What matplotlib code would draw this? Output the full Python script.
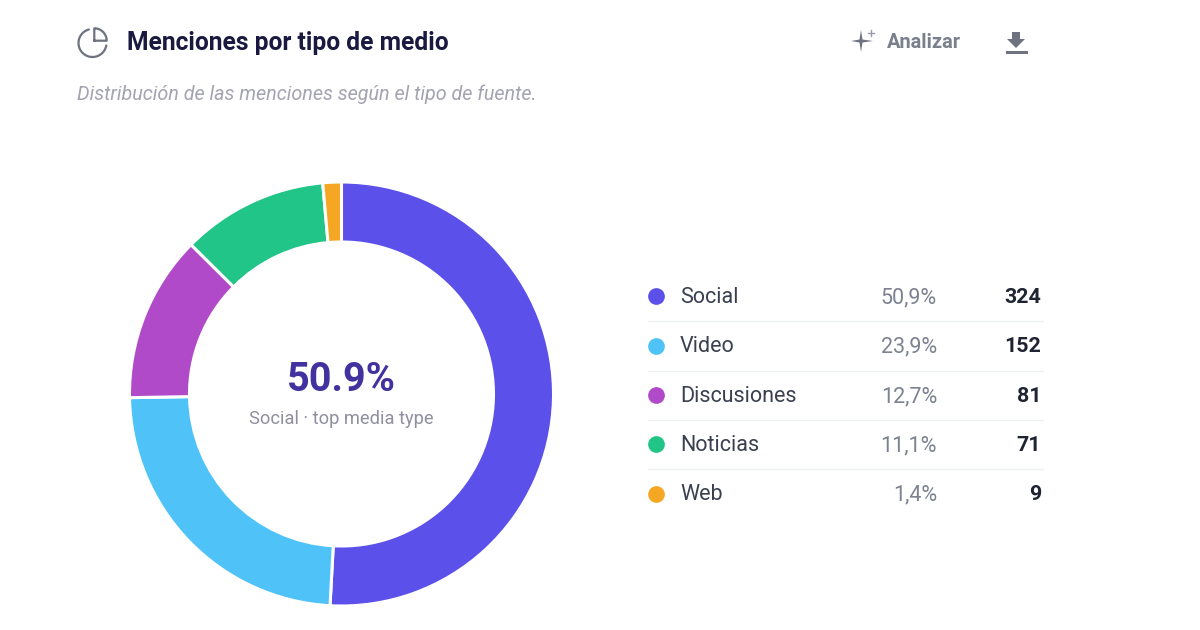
import numpy as np
import matplotlib
matplotlib.use("Agg")
import matplotlib.pyplot as plt

plt.rcParams["font.family"] = ["Roboto", "DejaVu Sans"]

categories = ["Social", "Video", "Discusiones", "Noticias", "Web"]
values = [324, 152, 81, 71, 9]
percent_labels = ["50,9%", "23,9%", "12,7%", "11,1%", "1,4%"]
colors = ["#5B50EA", "#4FC3F7", "#B04AC8", "#22C588", "#F5A623"]

fig = plt.figure(figsize=(12, 6.3), dpi=100, facecolor="white")

# capa en pixeles para textos e iconos
ax = fig.add_axes([0, 0, 1, 1])
ax.set_xlim(0, 1200)
ax.set_ylim(630, 0)
ax.axis("off")

# donut
cx, cy, r = 341.5, 394, 212
pie_ax = fig.add_axes([(cx - r) / 1200, 1 - (cy + r) / 630, 2 * r / 1200, 2 * r / 630])
pie_ax.pie(values, colors=colors, startangle=90, counterclock=False, radius=1,
           wedgeprops=dict(width=60 / 212, edgecolor="white", linewidth=2.2))
pie_ax.set_xlim(-1, 1)
pie_ax.set_ylim(-1, 1)
pie_ax.patch.set_alpha(0)

# cabecera
ax.text(127, 43, "Menciones por tipo de medio", fontsize=17.75, fontweight="bold",
        color="#1A1A40", va="center")
ax.text(77, 94, "Distribución de las menciones según el tipo de fuente.", fontsize=14.2,
        style="italic", color="#A3A3B2", va="center")
ax.text(887, 43, "Analizar", fontsize=14.4, fontweight="bold", color="#7A7F8C", va="center")

# icono de pastel
t = np.radians(np.linspace(105, 350, 60))
ax.plot(92.5 + 14 * np.cos(t), 43 - 14 * np.sin(t), color="#6F7280", lw=1.6, solid_capstyle="round")
t = np.radians(np.linspace(0, 90, 30))
ax.plot(np.r_[94.3, 94.3 + 12.4 * np.cos(t), 94.3], np.r_[40.7, 40.7 - 12.4 * np.sin(t), 40.7],
        color="#6F7280", lw=1.6, solid_joinstyle="round")

# icono de destello
ax.fill([861, 862.5, 873, 862.5, 861, 859.5, 851, 859.5],
        [30, 39.5, 41, 42.5, 52, 42.5, 41, 39.5], color="#6F7280", lw=0)
ax.plot([871, 871], [29.5, 36], color="#9A9DA8", lw=1)
ax.plot([868, 874], [32.7, 32.7], color="#9A9DA8", lw=1)

# icono de descarga
ax.fill([1012, 1020, 1020, 1025, 1016, 1007, 1012], [32, 32, 39, 39, 48, 39, 39], color="#6F7280", lw=0)
ax.plot([1006.5, 1025.5], [52, 52], color="#6F7280", lw=2.2)

# texto central
ax.text(cx, 380, "50.9%", fontsize=28.5, fontweight="bold", color="#41329F", ha="center", va="center")
ax.text(cx, 419, "Social · top media type", fontsize=13.15, color="#8F8F9F", ha="center", va="center")

# leyenda
row_y = [296, 345.5, 395, 444, 493.5]
for i, name in enumerate(categories):
    y = row_y[i]
    ax.scatter([656], [y], s=145, color=colors[i], linewidths=0)
    ax.text(680, y + 1.5, name, fontsize=15.5, color="#3A4050", va="center")
    ax.text(937, y + 1.5, percent_labels[i], fontsize=15.5, color="#7D8290", ha="right", va="center")
    ax.text(1041, y + 1.5, str(values[i]), fontsize=15.4, fontweight="bold", color="#1F2433", ha="right", va="center")
    if i < len(categories) - 1:
        ax.plot([648, 1043], [y + 25, y + 25], color="#EEF0F4", lw=1)

fig.savefig("out.png", dpi=100, facecolor="white")
